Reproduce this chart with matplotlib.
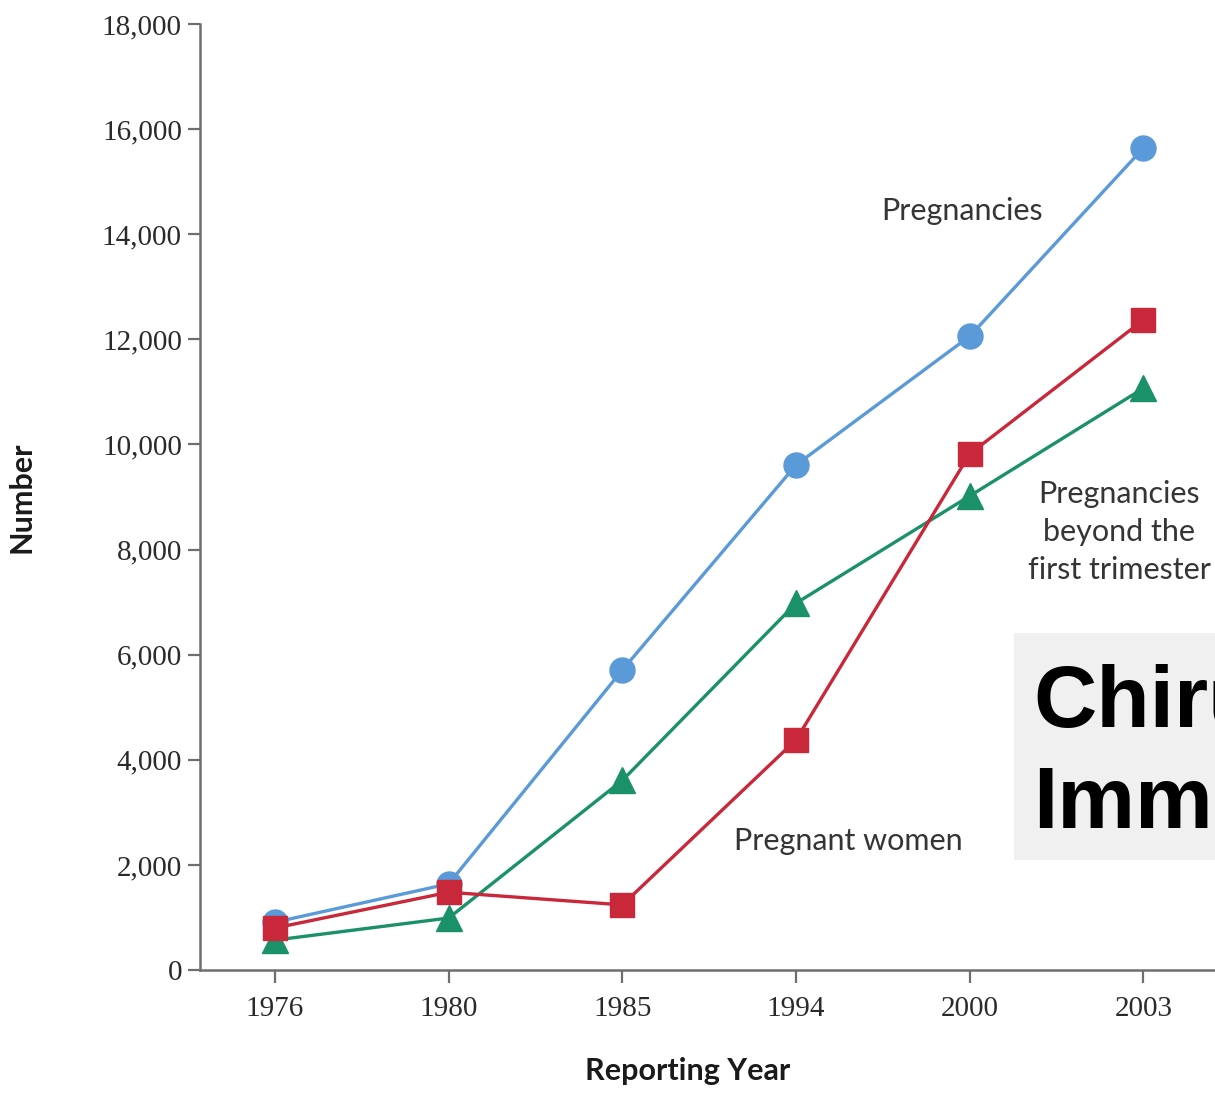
#!/usr/bin/env python3

import matplotlib
matplotlib.use("Agg")
import matplotlib.pyplot as plt
from matplotlib.patches import Rectangle

# Reported abortions by reporting year
years = ["1976", "1980", "1985", "1994", "2000", "2003"]
pregnancies = [910, 1640, 5710, 9610, 12060, 15640]
pregnant_women = [800, 1480, 1240, 4380, 9820, 12370]
beyond_first_trimester = [570, 990, 3610, 6980, 9020, 11070]

blue = "#5b9ad8"
red = "#c9283a"
green = "#1b9169"
axis_grey = "#6e6e6e"

fig = plt.figure(figsize=(12.15, 10.94), dpi=100)
ax = fig.add_axes([0.1646, 0.1133, 0.848, 0.8648])

x = list(range(len(years)))
ax.plot(x, pregnancies, color=blue, lw=2.4, marker="o", ms=18, zorder=3)
ax.plot(x, beyond_first_trimester, color=green, lw=2.4, marker="^", ms=19, zorder=4)
ax.plot(x, pregnant_women, color=red, lw=2.4, marker="s", ms=17, zorder=5)

ax.set_xlim(-0.432, 5.50)
ax.set_ylim(0, 18000)
ax.set_xticks(x)
ax.set_xticklabels(years)
ax.set_yticks(range(0, 18001, 2000))
ax.set_yticklabels(["0"] + ["{:,}".format(v) for v in range(2000, 18001, 2000)])

for s in ["top", "right"]:
    ax.spines[s].set_visible(False)
for s in ["left", "bottom"]:
    ax.spines[s].set_color(axis_grey)
    ax.spines[s].set_linewidth(1.8)
ax.tick_params(axis="both", colors=axis_grey, width=1.6, length=9, labelcolor="#2a2a2a",
               labelsize=21)
ax.tick_params(axis="x", pad=10)
ax.tick_params(axis="y", pad=4)
for lab in ax.get_xticklabels() + ax.get_yticklabels():
    lab.set_family("Liberation Serif")

ax.set_ylabel("Number", fontsize=22, fontweight="bold", family="Lato", labelpad=48, color="#1a1a1a")
ax.set_xlabel("Reporting Year", fontsize=22, fontweight="bold", family="Lato", color="#1a1a1a")
ax.xaxis.set_label_coords(0.473, -0.092)

lab_kw = dict(fontsize=22, family="Lato", color="#353535", ha="center", va="center", clip_on=False)
ax.text(3.957, 14440, "Pregnancies", **lab_kw)
ax.text(3.30, 2454, "Pregnant women", **lab_kw)
ax.text(4.86, 8333, "Pregnancies\nbeyond the\nfirst trimester", linespacing=1.42, **lab_kw)

# grey overlay box in the lower right
fig.patches.append(Rectangle((1014 / 1215, 1 - 860 / 1094), 0.2, 227 / 1094,
                             transform=fig.transFigure, facecolor="#f0f0f0", edgecolor="none", zorder=10))
fig.text(1033 / 1215, 1 - 727 / 1094, "Chiru", fontsize=63, fontweight="bold",
         family="Liberation Sans", color="black", ha="left", va="baseline", zorder=11)
fig.text(1033 / 1215, 1 - 828 / 1094, "Immu", fontsize=63, fontweight="bold",
         family="Liberation Sans", color="black", ha="left", va="baseline", zorder=11)

fig.savefig("out.png", dpi=100)
